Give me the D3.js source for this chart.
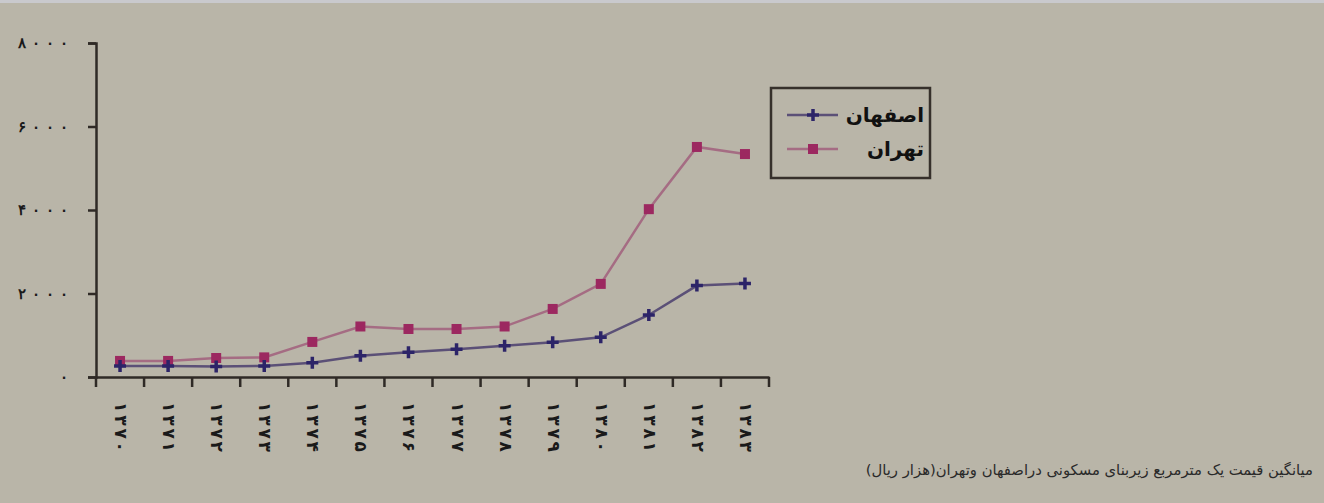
<!DOCTYPE html>
<html>
<head>
<meta charset="utf-8">
<script src="https://cdn.jsdelivr.net/npm/d3@7"></script>
<style>
    body { margin: 0; background: #b9b5a8; }
    svg { display: block; font-family: "DejaVu Sans", sans-serif; }
</style>
</head>
<body>
<svg id="chart" width="1324" height="503"></svg>
<script>
// years 1370..1383 (Persian digits)
const years = ["۱۳۷۰", "۱۳۷۱", "۱۳۷۲", "۱۳۷۳", "۱۳۷۴", "۱۳۷۵", "۱۳۷۶",
               "۱۳۷۷", "۱۳۷۸", "۱۳۷۹", "۱۳۸۰", "۱۳۸۱", "۱۳۸۲", "۱۳۸۳"];
const isfahan = [265, 265, 250, 265, 340, 510, 590, 665, 750, 830, 950, 1485, 2190, 2240];
const tehran = [385, 385, 455, 470, 840, 1210, 1150, 1150, 1210, 1630, 2230, 4020, 5510, 5340];
const yTicks = [0, 2000, 4000, 6000, 8000];
const seriesNames = ["اصفهان", "تهران"];
const caption = "میانگین قیمت یک مترمربع زیربنای مسکونی دراصفهان وتهران(هزار ریال)";

const faDigits = "۰۱۲۳۴۵۶۷۸۹";
function toFa(n) {
    return String(n).replace(/[0-9]/g, function (c) { return faDigits[+c]; });
}

const svg = d3.select("#chart");
const g = svg.append("g");

// top light strip of the scan
svg.append("rect").attr("x", 0).attr("y", 0).attr("width", 1324).attr("height", 3)
    .attr("fill", "#c9c9cd");

const plot = { left: 96, right: 769, top: 43, bottom: 377 };

let x = d3.scaleBand().domain(years).range([plot.left, plot.right]);
let y = d3.scaleLinear().domain([0, 8000]).range([plot.bottom, plot.top]);

// y axis
let yAxis = g.append("g")
    .attr("transform", "translate(" + plot.left + ",0)")
    .call(d3.axisLeft(y).tickValues(yTicks).tickSize(8).tickPadding(20)
        .tickFormat(function (d) { return toFa(d); }));
yAxis.selectAll("path, line").attr("stroke", "#2f2a26").attr("stroke-width", 2.5);
yAxis.selectAll("text")
    .attr("fill", "#1a1a1a")
    .style("font-size", "15px")
    .style("font-weight", "bold")
    .each(function (d) {
        // the scan shows the digits widely spaced
        if (d > 0) d3.select(this).attr("textLength", 50).attr("lengthAdjust", "spacing");
    });

// x axis line + ticks between categories
let xAxis = g.append("g")
    .attr("transform", "translate(0," + plot.bottom + ")")
    .call(d3.axisBottom(x).tickSize(0).tickPadding(0).tickFormat(""));
xAxis.select("path").attr("stroke", "#2f2a26").attr("stroke-width", 2.5);

let edges = years.map(function (d) { return x(d); }).concat([x.range()[1]]);
g.append("g").selectAll("line").data(edges).enter().append("line")
    .attr("x1", function (d) { return d; }).attr("x2", function (d) { return d; })
    .attr("y1", plot.bottom).attr("y2", plot.bottom + 10)
    .attr("stroke", "#2f2a26").attr("stroke-width", 2.5);

// rotated year labels
g.append("g").selectAll("text").data(years).enter().append("text")
    .attr("transform", function (d) {
        return "translate(" + (x(d) + x.bandwidth() / 2) + "," + 402 + ") rotate(90)";
    })
    .attr("dominant-baseline", "middle")
    .attr("text-anchor", "start")
    .attr("textLength", 50)
    .attr("lengthAdjust", "spacing")
    .style("font-size", "17px")
    .style("font-weight", "bold")
    .attr("fill", "#1a1a1a")
    .text(function (d) { return d; });

// series
let cx = function (d, i) { return x(years[i]) + x.bandwidth() / 2; };
let line = d3.line().x(cx).y(function (d) { return y(d); });

function drawSeries(values, lineColor, markColor, marker) {
    let sg = g.append("g");
    sg.append("path").datum(values)
        .attr("d", line)
        .attr("fill", "none")
        .attr("stroke", lineColor)
        .attr("stroke-width", 2.5);
    let pts = sg.selectAll(".pt").data(values).enter().append("g")
        .attr("transform", function (d, i) { return "translate(" + cx(d, i) + "," + y(d) + ")"; });
    marker(pts, markColor);
}

function squareMarker(sel, color) {
    sel.append("rect").attr("x", -5).attr("y", -5).attr("width", 10).attr("height", 10)
        .attr("fill", color);
}
function plusMarker(sel, color) {
    sel.append("path").attr("d", "M-6,0H6M0,-6V6")
        .attr("stroke", color).attr("stroke-width", 3.5);
}

drawSeries(tehran, "#a56c83", "#9c2860", squareMarker);
drawSeries(isfahan, "#5b5077", "#2c2468", plusMarker);

// legend
let lg = g.append("g").attr("class", "legend");
lg.append("rect").attr("x", 771).attr("y", 88).attr("width", 159).attr("height", 90)
    .attr("fill", "none").attr("stroke", "#36302b").attr("stroke-width", 2.5);
let legendItems = [
    { name: seriesNames[0], line: "#5b5077", mark: "#2c2468", marker: plusMarker },
    { name: seriesNames[1], line: "#a56c83", mark: "#9c2860", marker: squareMarker }
];
legendItems.forEach(function (d, i) {
    let ly = 115 + i * 34;
    lg.append("line").attr("x1", 787).attr("x2", 838).attr("y1", ly).attr("y2", ly)
        .attr("stroke", d.line).attr("stroke-width", 2.5);
    let m = lg.append("g").attr("transform", "translate(813," + ly + ")");
    d.marker(m, d.mark);
    lg.append("text")
        .attr("x", 924).attr("y", ly + 1)
        .attr("text-anchor", "end")
        .attr("dominant-baseline", "middle")
        .style("font-size", "20px")
        .style("font-weight", "bold")
        .attr("fill", "#111")
        .text(d.name);
});

// caption
svg.append("text")
    .attr("x", 1313).attr("y", 475)
    .attr("text-anchor", "end")
    .style("font-size", "14.8px")
    .attr("fill", "#2a2a2a")
    .text(caption);
</script>
</body>
</html>
